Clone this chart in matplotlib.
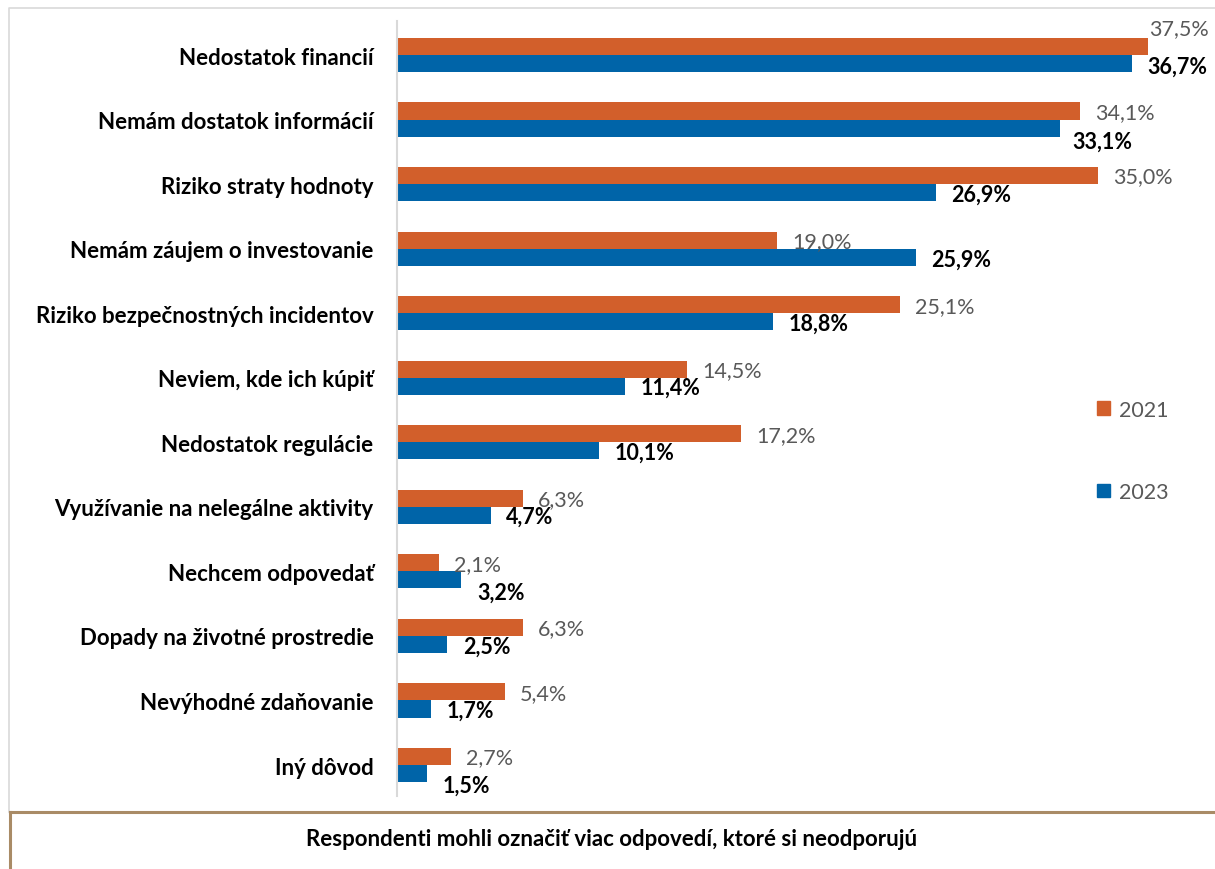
import matplotlib.pyplot as plt
from matplotlib.lines import Line2D
from matplotlib.patches import Patch

plt.rcParams['font.family'] = ['Lato', 'DejaVu Sans']

categories = [
    "Nedostatok financií", "Nemám dostatok informácií", "Riziko straty hodnoty",
    "Nemám záujem o investovanie", "Riziko bezpečnostných incidentov",
    "Neviem, kde ich kúpiť", "Nedostatok regulácie",
    "Využívanie na nelegálne aktivity", "Nechcem odpovedať",
    "Dopady na životné prostredie", "Nevýhodné zdaňovanie", "Iný dôvod",
]
values_2021 = [37.5, 34.1, 35.0, 19.0, 25.1, 14.5, 17.2, 6.3, 2.1, 6.3, 5.4, 2.7]
values_2023 = [36.7, 33.1, 26.9, 25.9, 18.8, 11.4, 10.1, 4.7, 3.2, 2.5, 1.7, 1.5]
series_names = ["2021", "2023"]
note = "Respondenti mohli označiť viac odpovedí, ktoré si neodporujú"

ORANGE = "#D25F2B"
BLUE = "#0064A8"
GRAY_TXT = "#595959"

# label nudges in pixels (dx, dy; dy positive = down), mimicking Excel placement
shift_2021 = [(1, -18)] + [(15, 1)] * 11
shift_2023 = [(15, 3), (13, 13), (15, 2), (15, 2), (15, 1), (15, 1), (15, 1),
              (15, 1), (16, 12), (16, 2), (16, 1), (16, 12)]


def pct(v):
    return f"{v:.1f}".replace('.', ',') + "%"


W, H = 1215, 870
fig = plt.figure(figsize=(W / 100, H / 100), dpi=100)
ax = fig.add_axes([397 / W, 73 / H, 801 / W, 775 / H])

n = len(categories)
ys = list(range(n))
bh = 0.265
ax.barh([y - bh / 2 for y in ys], values_2021, height=bh, color=ORANGE, label=series_names[0])
ax.barh([y + bh / 2 for y in ys], values_2023, height=bh, color=BLUE, label=series_names[1])

ax.set_xlim(0, 40)
ax.set_ylim(n - 1 + 0.48, -0.527)
ax.set_yticks(ys)
ax.set_yticklabels(categories, fontsize=16, fontweight='bold')
ax.tick_params(axis='y', length=0, pad=17)
ax.set_xticks([])
for s in ['top', 'right', 'bottom']:
    ax.spines[s].set_visible(False)
ax.spines['left'].set_color('#D9D9D9')
ax.spines['left'].set_linewidth(1.5)

k = 0.72  # px -> pt
for i in range(n):
    dx, dy = shift_2021[i]
    ax.annotate(pct(values_2021[i]), (values_2021[i], i - bh / 2),
                xytext=(dx * k, -dy * k), textcoords='offset points',
                ha='left', va='center', fontsize=15.5, color=GRAY_TXT)
    dx, dy = shift_2023[i]
    ax.annotate(pct(values_2023[i]), (values_2023[i], i + bh / 2),
                xytext=(dx * k, -dy * k), textcoords='offset points',
                ha='left', va='center', fontsize=15.5, color='black', fontweight='bold')

handles = [Patch(color=ORANGE), Patch(color=BLUE)]
fig.legend(handles, series_names, loc='center left', bbox_to_anchor=(1078 / W, 1 - 452 / H),
           frameon=False, fontsize=15.5, labelcolor=GRAY_TXT, handlelength=0.6,
           handleheight=0.6, handletextpad=0.4, labelspacing=2.9)

# outer frame and the note box
fig.add_artist(Line2D([9 / W, 9 / W, 1], [1 - 813 / H, 1 - 9 / H, 1 - 9 / H],
                      transform=fig.transFigure, color='#D9D9D9', lw=1.2))
fig.add_artist(Line2D([10 / W, 1], [1 - 813 / H, 1 - 813 / H],
                      transform=fig.transFigure, color='#A98B66', lw=2.2))
fig.add_artist(Line2D([10 / W, 10 / W], [1 - 813 / H, 0],
                      transform=fig.transFigure, color='#A98B66', lw=2.2))
fig.text(612 / W, 1 - 840 / H, note, ha='center', va='center',
         fontsize=16, fontweight='bold', color='black')

fig.savefig("out.png", dpi=100)
